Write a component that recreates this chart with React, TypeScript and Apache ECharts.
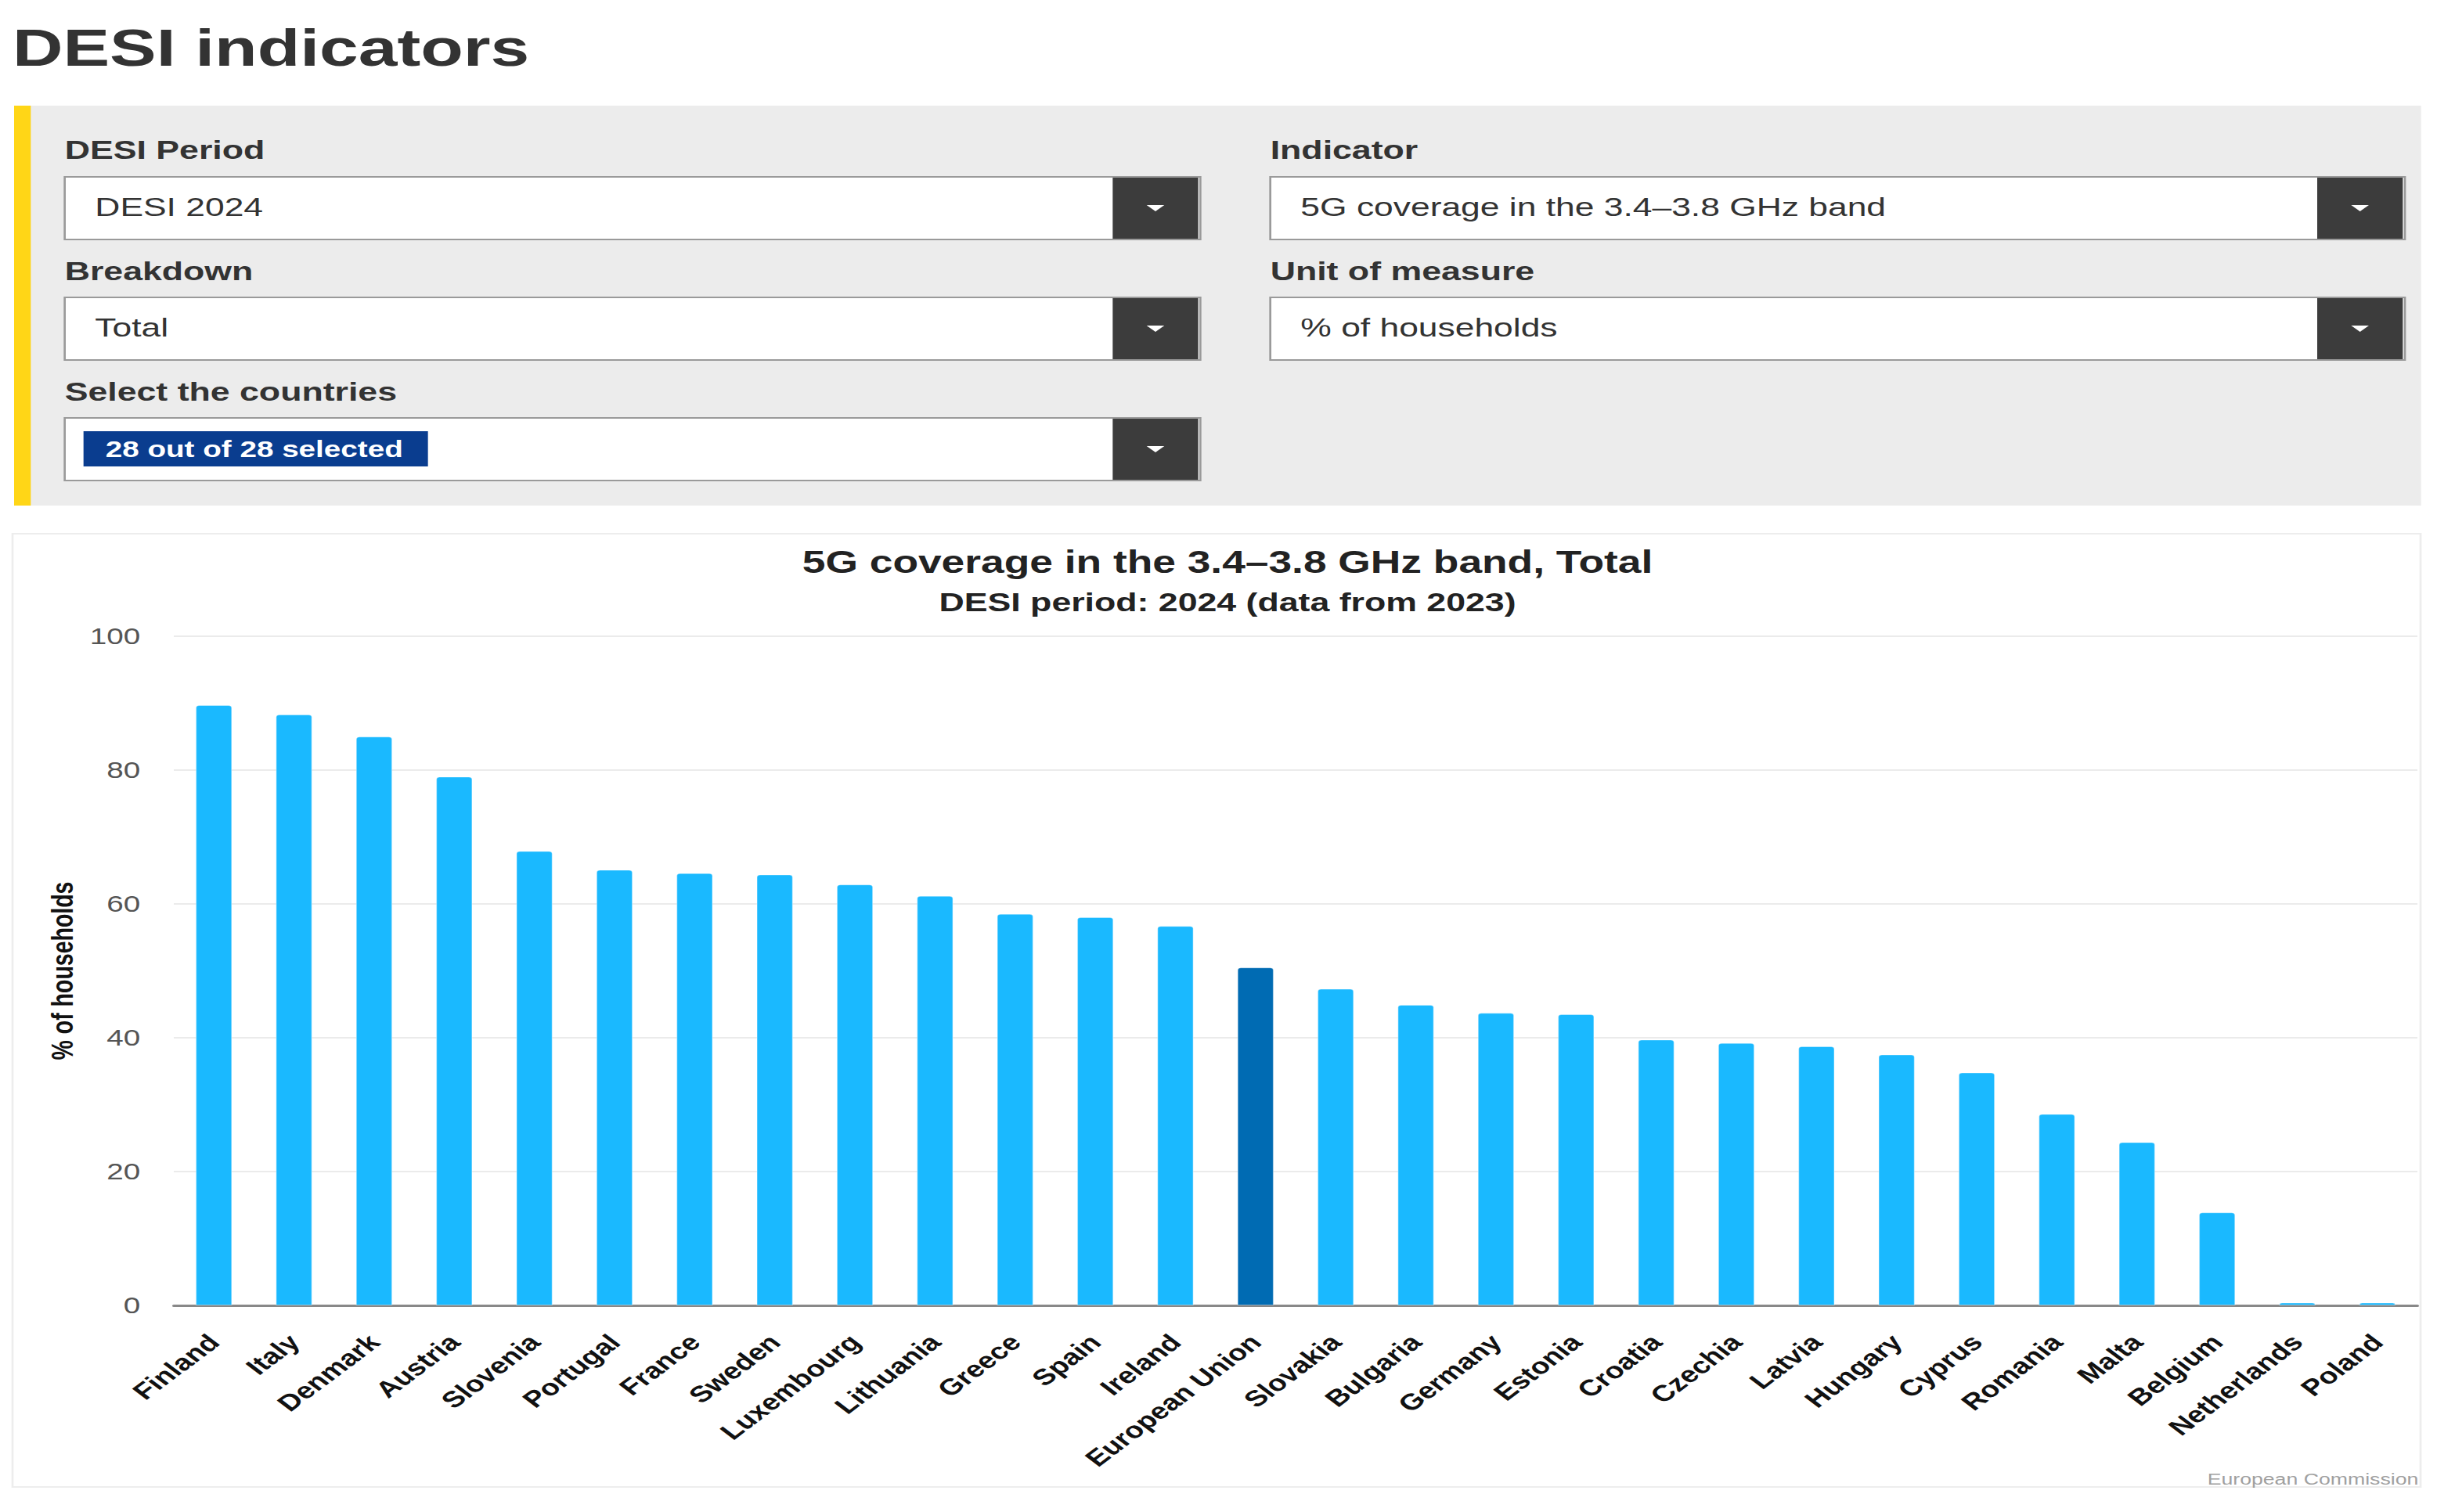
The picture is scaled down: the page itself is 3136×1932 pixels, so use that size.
import React, { useEffect, useRef } from "react";
import * as echarts from "echarts";

const countries = [
  "Finland", "Italy", "Denmark", "Austria", "Slovenia", "Portugal", "France",
  "Sweden", "Luxembourg", "Lithuania", "Greece", "Spain", "Ireland",
  "European Union", "Slovakia", "Bulgaria", "Germany", "Estonia", "Croatia",
  "Czechia", "Latvia", "Hungary", "Cyprus", "Romania", "Malta", "Belgium",
  "Netherlands", "Poland",
];
const values = [
  89.7, 88.3, 85.0, 79.0, 67.9, 65.1, 64.6, 64.4, 62.9, 61.2, 58.5, 58.0, 56.7,
  50.5, 47.3, 44.9, 43.7, 43.5, 39.7, 39.2, 38.7, 37.5, 34.8, 28.6, 24.4, 13.9,
  0.4, 0.4,
];
const highlighted = "European Union";
const yTicks = { min: 0, max: 100, interval: 20 };

const pageTitle = "DESI indicators";
const chartTitle = "5G coverage in the 3.4–3.8 GHz band, Total";
const chartSubtitle = "DESI period: 2024 (data from 2023)";
const yAxisName = "% of households";
const credit = "European Commission";
const leftFilters = [
  { label: "DESI Period", value: "DESI 2024" },
  { label: "Breakdown", value: "Total" },
  { label: "Select the countries", value: "28 out of 28 selected", chip: true },
];
const rightFilters = [
  { label: "Indicator", value: "5G coverage in the 3.4–3.8 GHz band" },
  { label: "Unit of measure", value: "% of households" },
];

const W = 2352;
const H = 1932;
const SX = 3136 / W;
const FONT = "'Liberation Sans', Arial, Helvetica, sans-serif";

function dropdown(x: number, w: number, row: number, f: any): any[] {
  const labelY = 191.4 + row * 154.3;
  const boxTop = 226 + row * 154;
  const boxH = 80;
  const btnW = 82;
  const els: any[] = [
    {
      type: "text",
      x: x,
      y: labelY,
      style: {
        text: f.label,
        fontSize: 33.5,
        fontWeight: "bold",
        fontFamily: FONT,
        fill: "#333333",
        align: "left",
        verticalAlign: "middle",
      },
    },
    {
      type: "rect",
      shape: { x: x, y: boxTop, width: w, height: boxH },
      style: { fill: "#ffffff", stroke: "#9a9a9a", lineWidth: 2 },
    },
    {
      type: "rect",
      shape: { x: x + w - btnW - 2, y: boxTop + 1, width: btnW, height: boxH - 2 },
      style: { fill: "#3c3c3c" },
    },
    {
      type: "polygon",
      shape: {
        points: [
          [x + w - btnW / 2 - 2 - 8.5, boxTop + boxH / 2 - 4],
          [x + w - btnW / 2 - 2 + 8.5, boxTop + boxH / 2 - 4],
          [x + w - btnW / 2 - 2, boxTop + boxH / 2 + 4],
        ],
      },
      style: { fill: "#ffffff" },
    },
  ];
  if (f.chip) {
    els.push({
      type: "rect",
      shape: { x: x + 18, y: boxTop + 17, width: 330, height: 45 },
      style: { fill: "#0a3d8f" },
    });
    els.push({
      type: "text",
      x: x + 39,
      y: boxTop + boxH / 2,
      style: {
        text: f.value,
        fontSize: 29,
        fontWeight: "bold",
        fontFamily: FONT,
        fill: "#ffffff",
        align: "left",
        verticalAlign: "middle",
      },
    });
  } else {
    els.push({
      type: "text",
      x: x + 29,
      y: boxTop + 38,
      style: {
        text: f.value,
        fontSize: 33.3,
        fontFamily: FONT,
        fill: "#333333",
        align: "left",
        verticalAlign: "middle",
      },
    });
  }
  return els;
}

export default function App() {
  const ref = useRef<HTMLDivElement>(null);

  useEffect(() => {
    if (!ref.current) return;
    const chart = echarts.init(ref.current, undefined, { renderer: "svg" });

    const graphics: any[] = [
      {
        type: "text",
        x: 12,
        y: 61,
        style: {
          text: pageTitle,
          fontSize: 67,
          fontWeight: "bold",
          fontFamily: FONT,
          fill: "#333333",
          align: "left",
          verticalAlign: "middle",
        },
      },
      {
        type: "rect",
        z: -10,
        shape: { x: 13.5, y: 135, width: 2306, height: 511 },
        style: { fill: "#ececec" },
      },
      {
        type: "rect",
        shape: { x: 13.5, y: 135, width: 16, height: 511 },
        style: { fill: "#ffd617" },
      },
      {
        type: "rect",
        z: -10,
        shape: { x: 12, y: 682, width: 2307, height: 1218 },
        style: { fill: "none", stroke: "#ededed", lineWidth: 2 },
      },
      {
        type: "text",
        x: 2317,
        y: 1890,
        style: {
          text: credit,
          fontSize: 20,
          fontFamily: FONT,
          fill: "#a0a0a0",
          align: "right",
          verticalAlign: "middle",
        },
      },
    ];
    leftFilters.forEach((f, i) => graphics.push(...dropdown(62, 1088, i, f)));
    rightFilters.forEach((f, i) => graphics.push(...dropdown(1217, 1087, i, f)));

    chart.setOption({
      animation: false,
      backgroundColor: "#ffffff",
      title: {
        text: chartTitle,
        subtext: chartSubtitle,
        left: "center",
        top: 693,
        itemGap: 14,
        textStyle: {
          fontSize: 40,
          lineHeight: 40,
          fontWeight: "bold",
          fontFamily: FONT,
          color: "#222222",
        },
        subtextStyle: {
          fontSize: 33.5,
          lineHeight: 34,
          fontWeight: "bold",
          fontFamily: FONT,
          color: "#222222",
        },
      },
      grid: { left: 166.5, right: W - 2316, top: 813, bottom: H - 1668, containLabel: false },
      xAxis: {
        type: "category",
        data: countries,
        axisLine: { show: true, lineStyle: { color: "#888888", width: 3 } },
        axisTick: { show: false },
        axisLabel: {
          interval: 0,
          rotate: 45,
          margin: 42,
          fontSize: 29,
          fontWeight: "bold",
          fontFamily: FONT,
          color: "#111111",
        },
      },
      yAxis: {
        type: "value",
        min: yTicks.min,
        max: yTicks.max,
        interval: yTicks.interval,
        name: yAxisName,
        nameLocation: "middle",
        nameRotate: 90,
        nameGap: 92,
        nameTextStyle: {
          fontSize: 28.5,
          fontWeight: "bold",
          fontFamily: FONT,
          color: "#111111",
        },
        axisLine: { show: false },
        axisTick: { show: false },
        axisLabel: {
          margin: 32,
          fontSize: 29,
          fontFamily: FONT,
          color: "#555555",
        },
        splitLine: { lineStyle: { color: "#ebebeb", width: 2 } },
      },
      series: [
        {
          type: "bar",
          barWidth: 35,
          data: values.map((v, i) => ({
            value: v,
            itemStyle: {
              color: countries[i] === highlighted ? "#006bb3" : "#1ab9ff",
            },
          })),
          itemStyle: {
            borderRadius: [3, 3, 0, 0],
            borderColor: "rgba(255,255,255,0.35)",
            borderWidth: 1,
          },
        },
      ],
      graphic: graphics,
    });

    return () => chart.dispose();
  }, []);

  return (
    <div
      ref={ref}
      style={{
        position: "fixed",
        left: 0,
        top: 0,
        width: W,
        height: H,
        transform: `scaleX(${SX})`,
        transformOrigin: "0 0",
        background: "#ffffff",
      }}
    />
  );
}
